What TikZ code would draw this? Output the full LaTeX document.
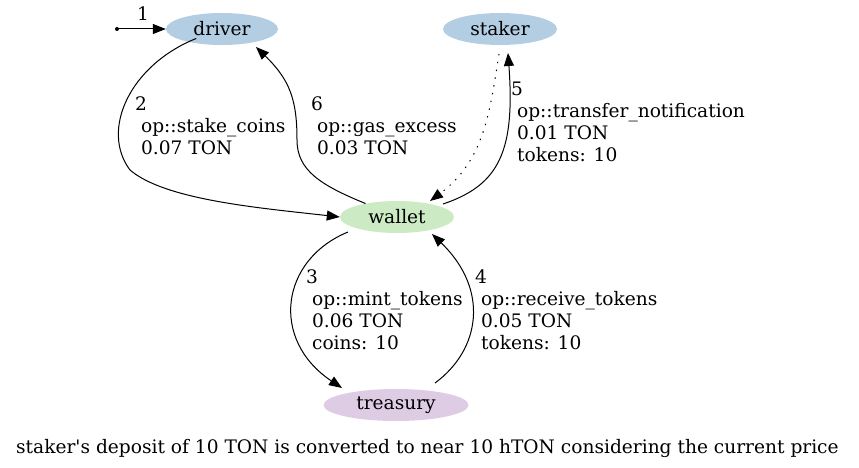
\documentclass[tikz,border=0pt]{standalone}
\usepackage{fontspec}
\setmainfont{DejaVu Serif}[Ligatures=TeXOff]
\usetikzlibrary{shapes.geometric,arrows.meta}
\definecolor{cblue}{HTML}{B3CDE3}
\definecolor{cgreen}{HTML}{CCEBC5}
\definecolor{cpurple}{HTML}{DECBE4}
\tikzset{
  gvnode/.style={ellipse,draw=none,inner sep=0pt,minimum height=32pt,font=\fontsize{18.6}{22}\selectfont},
  gvedge/.style={draw=black,line width=1pt,-{Triangle[length=13pt,width=10pt]}},
  gvdots/.style={dash pattern=on 1.4pt off 6.5pt},
  gvlabel/.style={anchor=north west,inner sep=0pt,align=left,font=\fontsize{18.6}{22}\selectfont},
}
\newcommand{\ind}{\hspace*{0.318em}}
\begin{document}
\begin{tikzpicture}[x=1pt,y=-1pt]
\useasboundingbox (0,0) rectangle (859,468);
\node[gvnode,fill=cblue,minimum width=112pt] (driver) at (222,29) {driver};
\node[gvnode,fill=cblue,minimum width=114pt] (staker) at (500,29) {staker};
\node[gvnode,fill=cgreen,minimum width=114pt] (wallet) at (397,217) {wallet};
\node[gvnode,fill=cpurple,minimum width=145pt] (treasury) at (396,405) {treasury};
\coordinate (start) at (117,29);
\fill (start) circle (2pt);
\draw[gvedge] (start) -- (driver.west);
\node[gvlabel] (l1) at (137,6) {1};
% 2
\draw[gvedge] (driver.south west) ++(14,-2) .. controls (130,65) and (100,130) .. (130,170)
  .. controls (165,200) and (260,208) .. (wallet.west);
\node[gvlabel] (l2) at (135,96) {2\\\ind op::stake\_coins\\\ind 0.07 TON};
% 6
\draw[gvedge] (wallet.north west) ++(9,-2) .. controls (320,185) and (297,170) .. (297,140)
  .. controls (297,100) and (290,80) .. (256,47);
\node[gvlabel] (l6) at (311,96) {6\\\ind op::gas\_excess\\\ind 0.03 TON};
% dotted
\draw[gvedge,gvdots] (499,54) .. controls (490,110) and (485,160) .. (430,201);
% 5
\draw[gvedge] (443,204) .. controls (500,185) and (515,150) .. (508,53);
\node[gvlabel] (l5) at (511,82) {5\\\ind op::transfer\_notification\\\ind 0.01 TON\\\ind tokens: 10};
% 3
\draw[gvedge] (348,232) .. controls (280,260) and (270,340) .. (342,388);
\node[gvlabel] (l3) at (306,269) {3\\\ind op::mint\_tokens\\\ind 0.06 TON\\\ind coins: 10};
% 4
\draw[gvedge] (435,383) .. controls (480,350) and (490,290) .. (432,234);
\node[gvlabel] (l4) at (475,269) {4\\\ind op::receive\_tokens\\\ind 0.05 TON\\\ind tokens: 10};
\node[anchor=base west,inner sep=0pt,font=\fontsize{18.6}{22}\selectfont] (cap) at (16,453) {staker's deposit of 10 TON is converted to near 10 hTON considering the current price};
\end{tikzpicture}
\end{document}
